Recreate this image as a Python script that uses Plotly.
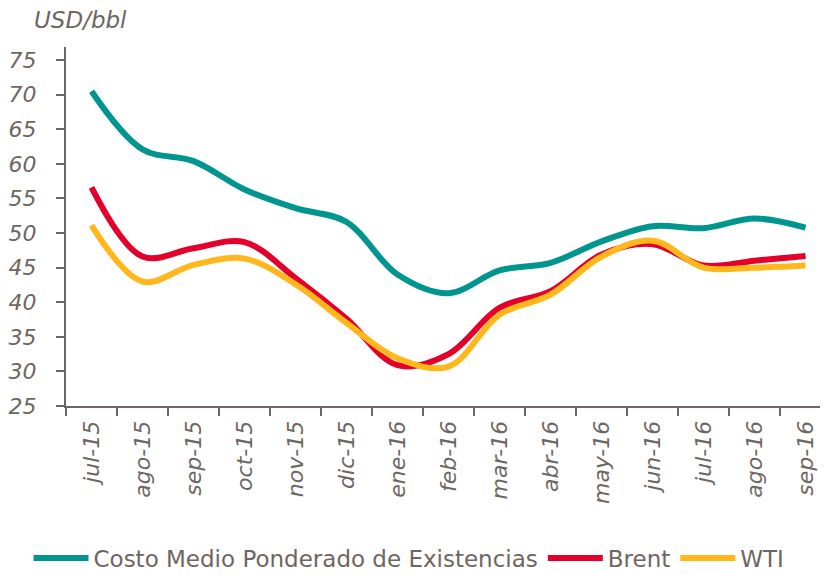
import plotly.graph_objects as go

months = ["jul-15", "ago-15", "sep-15", "oct-15", "nov-15", "dic-15", "ene-16", "feb-16",
          "mar-16", "abr-16", "may-16", "jun-16", "jul-16", "ago-16", "sep-16"]
costo = [70.5, 62.1, 60.4, 56.3, 53.6, 51.6, 44.0, 41.3, 44.6, 45.7, 48.8, 51.0, 50.7, 52.1, 50.8]
brent = [56.6, 46.6, 47.8, 48.7, 43.5, 37.6, 30.9, 32.5, 39.2, 41.6, 46.9, 48.4, 45.3, 46.0, 46.7]
wti = [51.1, 43.0, 45.4, 46.3, 42.6, 37.0, 31.9, 30.7, 38.2, 41.1, 46.6, 48.9, 45.0, 45.0, 45.3]
yticks = [25, 30, 35, 40, 45, 50, 55, 60, 65, 70, 75]

GRAY = "#6e6661"
FONT = "DejaVu Sans"

fig = go.Figure()
series = [("Costo Medio Ponderado de Existencias", costo, "#00968f"),
          ("Brent", brent, "#e4002b"),
          ("WTI", wti, "#ffb71b")]
for name, vals, col in series:
    fig.add_trace(go.Scatter(x=months, y=vals, name=name, mode="lines",
                             line=dict(color=col, width=6, shape="spline", smoothing=1.0)))

# page body has an 8px margin, so the figure is 8px smaller and margins shifted
fig.update_layout(
    width=820, height=567,
    margin=dict(l=58, r=0, t=39, b=169, autoexpand=False),
    plot_bgcolor="white", paper_bgcolor="white",
    font=dict(family=FONT, color=GRAY),
    showlegend=True,
    legend=dict(orientation="h", xref="container", yref="container",
                x=0.025, xanchor="left", y=0.03, yanchor="middle",
                font=dict(size=23, color=GRAY, family=FONT), itemwidth=55,
                traceorder="normal", tracegroupgap=0),
    annotations=[dict(text="USD/bbl", xref="paper", yref="paper", x=-0.045, y=1.034,
                      xanchor="left", yanchor="bottom", showarrow=False,
                      font=dict(size=23, color=GRAY, family=FONT, style="italic"))],
)
fig.update_xaxes(
    type="category", range=[-0.5, 14.44], showgrid=False, zeroline=False, automargin=False,
    showline=True, linecolor=GRAY, linewidth=2,
    ticks="outside", ticklen=8, tickwidth=2, tickcolor=GRAY, tickson="boundaries",
    tickangle=-90, tickfont=dict(size=22, color=GRAY, family=FONT, style="italic"),
    ticklabelstandoff=4,
)
fig.update_yaxes(
    range=[25, 76.9], tickvals=yticks, ticktext=[str(v) for v in yticks],
    showgrid=False, zeroline=False, automargin=False,
    showline=True, linecolor=GRAY, linewidth=2,
    ticks="outside", ticklen=8, tickwidth=2, tickcolor=GRAY,
    tickfont=dict(size=22, color=GRAY, family=FONT, style="italic"),
    ticklabelstandoff=15,
)

fig.write_html("out.html")
